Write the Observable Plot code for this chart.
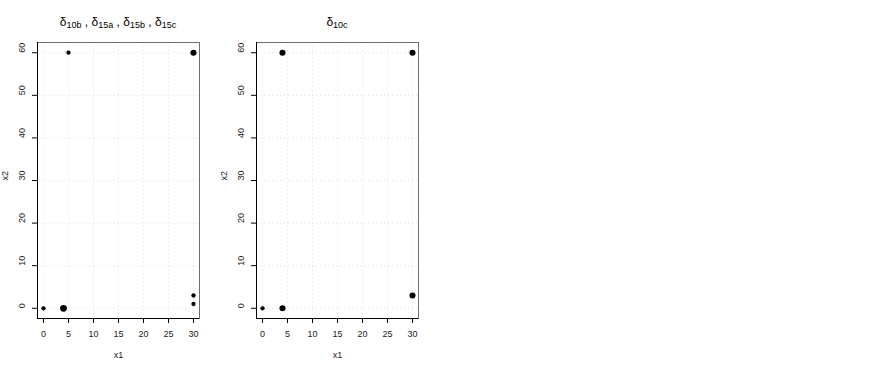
<!DOCTYPE html>
<html>
<head>
<meta charset="utf-8">
<script src="https://cdn.jsdelivr.net/npm/d3@7"></script>
<script src="https://cdn.jsdelivr.net/npm/@observablehq/plot@0.6"></script>
<style>
  html, body { margin: 0; padding: 0; background: #fff; }
  #wrap { position: relative; width: 872px; height: 371px; font-family: "Liberation Sans", Arial, sans-serif; }
  .panel { position: absolute; top: 0; }
  .title { position: absolute; top: 15px; font-size: 12px; color: #000; white-space: nowrap; transform: translateX(-50%); }
  .title sub { font-size: 9px; vertical-align: -2px; }
</style>
</head>
<body>
<div id="wrap"></div>
<script>
// Panel 1: δ10b, δ15a, δ15b, δ15c
const p1Title = ["10b", "15a", "15b", "15c"];
const p1x = [0, 4, 5, 30, 30, 30];
const p1y = [0, 0, 60, 60, 3, 1];
const p1w = [1, 2.5, 1, 2, 1, 1];

// Panel 2: δ10c
const p2Title = ["10c"];
const p2x = [0, 4, 4, 30, 30];
const p2y = [0, 0, 60, 60, 3];
const p2w = [1, 2, 2, 2, 2];

const xTicks = [0, 5, 10, 15, 20, 25, 30];
const yTicks = [0, 10, 20, 30, 40, 50, 60];
const xDomain = [-1.2, 31.2];
const yDomain = [-2.4, 62.4];

const wrap = document.getElementById("wrap");

function panel(xs, ys, ws, left, mLeft, titleParts) {
  const data = xs.map((x, i) => ({x, y: ys[i], w: ws[i]}));
  const W = 218, H = 371;
  const plot = Plot.plot({
    width: W, height: H,
    marginLeft: mLeft, marginRight: W - mLeft - 162,
    marginTop: 42, marginBottom: 53,
    style: {fontFamily: "Liberation Sans, Arial, sans-serif", fontSize: "9px", background: "transparent"},
    x: {domain: xDomain, axis: null},
    y: {domain: yDomain, axis: null},
    r: {type: "sqrt", domain: [0, 2.5], range: [0, 3.4]},
    marks: [
      Plot.gridX(xTicks, {stroke: "#dedede", strokeOpacity: 1, strokeDasharray: "1,3"}),
      Plot.gridY(yTicks, {stroke: "#dedede", strokeOpacity: 1, strokeDasharray: "1,3"}),
      Plot.frame({stroke: "#6e6e6e"}),
      Plot.ruleX([xDomain[0]], {stroke: "#000"}),
      Plot.ruleY([yDomain[0]], {stroke: "#000"}),
      Plot.axisX({ticks: xTicks, tickSize: 5, tickPadding: 7, tickFormat: d => d, label: null, fontSize: 9, fill: "#222"}),
      Plot.axisY({ticks: yTicks, tickSize: 5, tickFormat: () => "", label: null}),
      Plot.text(yTicks, {y: d => d, text: d => String(d), frameAnchor: "left", dx: -15, rotate: -90, fontSize: 9, fill: "#222"}),
      Plot.text(["x1"], {text: d => d, frameAnchor: "bottom", dy: 39, fontSize: 9, fill: "#222"}),
      Plot.text(["x2"], {text: d => d, frameAnchor: "left", dx: -32, rotate: -90, fontSize: 9, fill: "#222"}),
      Plot.dot(data, {x: "x", y: "y", r: "w", fill: "#000", stroke: null})
    ]
  });
  const div = document.createElement("div");
  div.className = "panel";
  div.style.left = left + "px";
  div.appendChild(plot);
  wrap.appendChild(div);

  const t = document.createElement("div");
  t.className = "title";
  t.style.left = (left + mLeft + 81) + "px";
  t.innerHTML = titleParts.map(s => "δ<sub>" + s + "</sub>").join(" , ");
  wrap.appendChild(t);
}

panel(p1x, p1y, p1w, 0, 37, p1Title);
panel(p2x, p2y, p2w, 218, 38, p2Title);
</script>
</body>
</html>
